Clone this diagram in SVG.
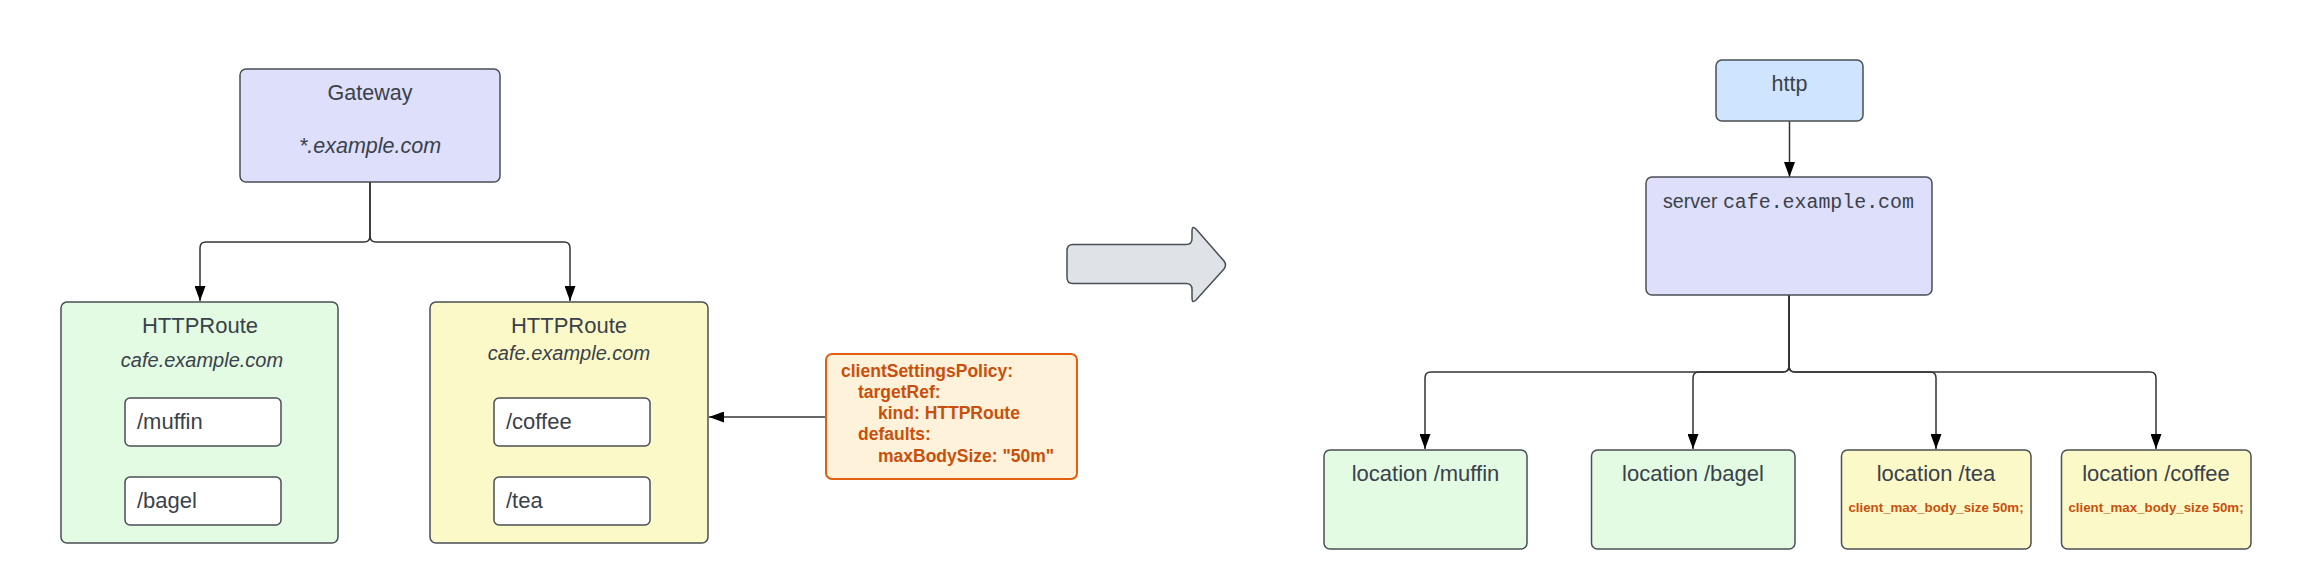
<svg xmlns="http://www.w3.org/2000/svg" width="2313" height="582" viewBox="0 0 2313 582">
<defs>
<marker id="ah" markerUnits="userSpaceOnUse" markerWidth="15" markerHeight="11" refX="15" refY="5.5" orient="auto" viewBox="0 0 15 11">
<path d="M0,0 L15,5.5 L0,11 Z" fill="#000"/>
</marker>
<style>
.box{stroke:#4a4f55;stroke-width:1.5}
.gw{fill:#dedffa}
.grn{fill:#e3fae3}
.yel{fill:#fcf9c9}
.blu{fill:#cfe4ff}
.wht{fill:#ffffff}
.t{font-family:"Liberation Sans",Arial,sans-serif;fill:#3a414a;font-size:22px}
.c{text-anchor:middle}
.it{font-style:italic;font-size:20px}
.mono{font-family:"Liberation Mono","Courier New",monospace}
.pol{font-family:"Liberation Sans",Arial,sans-serif;font-weight:bold;font-size:17.5px;fill:#c9500c}
.sub{font-family:"Liberation Sans",Arial,sans-serif;font-weight:bold;font-size:13.3px;fill:#c9500c;text-anchor:middle}
.con{fill:none;stroke:#333;stroke-width:1.5}
</style>
</defs>
<rect width="2313" height="582" fill="#ffffff"/>

<g id="connectors">
<path class="con" d="M370,182 V236 Q370,242 364,242 H206 Q200,242 200,248 V301" marker-end="url(#ah)"/>
<path class="con" d="M370,182 V236 Q370,242 376,242 H564 Q570,242 570,248 V301" marker-end="url(#ah)"/>
<path class="con" d="M826,417 H709" marker-end="url(#ah)"/>
<path class="con" d="M1789.5,121 V177" marker-end="url(#ah)"/>
<path class="con" d="M1789,295 V366 Q1789,372 1783,372 H1431 Q1425,372 1425,378 V449" marker-end="url(#ah)"/>
<path class="con" d="M1789,295 V366 Q1789,372 1783,372 H1699 Q1693,372 1693,378 V449" marker-end="url(#ah)"/>
<path class="con" d="M1789,295 V366 Q1789,372 1795,372 H1930 Q1936,372 1936,378 V449" marker-end="url(#ah)"/>
<path class="con" d="M1789,295 V366 Q1789,372 1795,372 H2150 Q2156,372 2156,378 V449" marker-end="url(#ah)"/>
</g>

<g id="gateway">
<rect class="box gw" x="240" y="69" width="260" height="113" rx="6"/>
<text class="t c" x="370" y="99.5" style="font-size:21.5px">Gateway</text>
<text class="t c it" x="370" y="152.5" style="font-size:21.5px">*.example.com</text>
</g>

<g id="httproute-left">
<rect class="box grn" x="61" y="302" width="277" height="241" rx="6"/>
<text class="t c" x="200" y="333">HTTPRoute</text>
<text class="t c it" x="202" y="367">cafe.example.com</text>
</g>
<g id="route-muffin">
<rect class="box wht" x="125" y="398" width="156" height="48" rx="5"/>
<text class="t" x="137" y="429">/muffin</text>
</g>
<g id="route-bagel">
<rect class="box wht" x="125" y="477" width="156" height="48" rx="5"/>
<text class="t" x="137" y="508">/bagel</text>
</g>

<g id="httproute-right">
<rect class="box yel" x="430" y="302" width="278" height="241" rx="6"/>
<text class="t c" x="569" y="333">HTTPRoute</text>
<text class="t c it" x="569" y="360">cafe.example.com</text>
</g>
<g id="route-coffee">
<rect class="box wht" x="494" y="398" width="156" height="48" rx="5"/>
<text class="t" x="506" y="429">/coffee</text>
</g>
<g id="route-tea">
<rect class="box wht" x="494" y="477" width="156" height="48" rx="5"/>
<text class="t" x="506" y="508">/tea</text>
</g>

<g id="policy">
<rect x="826" y="354" width="251" height="125" rx="6" fill="#fff2da" stroke="#e0600f" stroke-width="2"/>
<text class="pol" x="841" y="377">clientSettingsPolicy:</text>
<text class="pol" x="858" y="398">targetRef:</text>
<text class="pol" x="878" y="419">kind: HTTPRoute</text>
<text class="pol" x="858" y="440">defaults:</text>
<text class="pol" x="878" y="461.5">maxBodySize: "50m"</text>
</g>

<g id="transform-arrow">
<path d="M1073,244.5 H1186 Q1192,244.5 1192,238.5 V231 Q1192,225 1196,229 L1224,261 Q1227,265 1224,269 L1196,300 Q1192,304 1192,298 V289.5 Q1192,283.5 1186,283.5 H1073 Q1067,283.5 1067,277.5 V250.5 Q1067,244.5 1073,244.5 Z" fill="#dfe2e7" stroke="#4a4f55" stroke-width="1.5"/>
</g>

<g id="http">
<rect class="box blu" x="1716" y="60" width="147" height="61" rx="6"/>
<text class="t c" x="1789.5" y="90.5" style="font-size:21.5px">http</text>
</g>

<g id="server">
<rect class="box gw" x="1646" y="177" width="286" height="118" rx="6"/>
<text class="t" x="1663" y="208" style="font-size:19.6px">server <tspan class="mono" style="font-size:19.9px">cafe.example.com</tspan></text>
</g>

<g id="loc-muffin">
<rect class="box grn" x="1324" y="450" width="203" height="99" rx="6"/>
<text class="t c" x="1425.5" y="480.5">location /muffin</text>
</g>
<g id="loc-bagel">
<rect class="box grn" x="1591.5" y="450" width="203.5" height="99" rx="6"/>
<text class="t c" x="1693" y="480.5">location /bagel</text>
</g>
<g id="loc-tea">
<rect class="box yel" x="1841.5" y="450" width="189.5" height="99" rx="6"/>
<text class="t c" x="1936" y="480.5">location /tea</text>
<text class="sub" x="1936" y="511.5">client_max_body_size 50m;</text>
</g>
<g id="loc-coffee">
<rect class="box yel" x="2061.5" y="450" width="189.5" height="99" rx="6"/>
<text class="t c" x="2156" y="480.5">location /coffee</text>
<text class="sub" x="2156" y="511.5">client_max_body_size 50m;</text>
</g>
</svg>
